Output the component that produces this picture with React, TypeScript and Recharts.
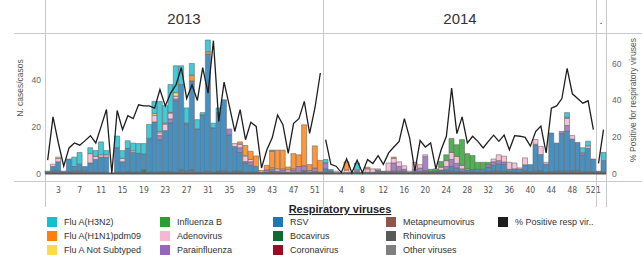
import React from 'react';
import { ComposedChart, Bar, Line, XAxis, YAxis, ReferenceLine } from 'recharts';

// ---------- categories ----------
const weeks2013 = Array.from({ length: 52 }, (_, i) => i + 1);
const weeks2014 = Array.from({ length: 52 }, (_, i) => i + 1);
const weeks2015 = [1, 2];
const ticks2013 = [3, 7, 11, 15, 19, 23, 27, 31, 35, 39, 43, 47, 51];
const ticks2014 = [4, 8, 12, 16, 20, 24, 28, 32, 36, 40, 44, 48, 52];
const ticks2015 = [1];
const yearLabels = ['2013', '2014', '.'];

// ---------- 2013 (cases per week) ----------
const rsv2013 = [0.5,2,4,0.5,5.5,2,3,2,4,5.5, 6.5,6.5,0,10.5,4.5,10,8.5,8,6.7,14.5, 21.5,13.8,17.5,21,30.5,36.5,20,38,18.5,24.5, 50,19,25,30.5,16,10.5,8,4,3,2.5, 0.3,0,0.5,0.5,0.5,0.3,0.5,0.5,0.5,0.3,0.3,0.3];
const para2013 = [0,0,0,0,0,0,0,0,0,0, 0,0,0,0,0,0,0,0,0,0, 0,1.8,0,1.7,0.8,0,0.5,0,0,0, 0,0,0,0,2.5,0,2,0.6,1.5,0, 0,1,1,0.5,1,0,1,2.5,2,1,1.5,0];
const adeno2013 = [0,1,1.5,0,0,0,0,0,4,1.3, 1,1,0,0,1.5,0,0.7,0,0,0, 2.8,1.2,2.8,2.5,1.2,0,0,0,0,0, 0,0,0,0,0,1.3,1.5,2.4,1,0, 0,0,0,1,0.5,1,0.5,0,0,0,0,0];
const notSub2013 = [0,0,0.5,0,0,0,0,0,0,0, 0,0,0,0,0,0,0,0,0,0, 0.8,0.6,0.4,0.3,1.5,0,0,0,0,0, 0,0,0,0,0,0,0,0,0,0, 0,0,0.5,0,0,0,0,0,0,0,0,0];
const h1n12013 = [0,0,0,0,0,0,0,0,0,0, 0,0,0,0,0,0,0,0,0,0, 0,0,0,0,0,0,0,2.5,0,0, 1,0,0,0,0,0,1,4.5,3.5,4.5, 1,2,7,8,8,1.2,6.5,5,17.5,2.5,9.5,5];
const h3n22013 = [0,0,0,0,0,4,5,0,2.5,2.5, 5.5,1.8,0,5,3.3,3.3,3.3,4.2,4.5,6, 5.2,12.8,7.5,11.9,11.5,8,6.5,5,4,1, 5,2,2,0,0,0,0,0,0,0, 0,0,0.5,0,0,0,0,0,0,0,0,0];
const boca2013 = [0,0,0,0,0,0,0,0,0,0, 0,0,0,0,0,0,0,0,1.2,0, 0,0,0,0,0,0,0,0,0,0, 0,0,0.5,0,0,0,0,0,0,0, 0,0,0.5,0,0,0,0,0,0,0,0,0];
const metap2013 = [0,0,0,0,0,0,0,0,0,0, 0,0,0,0,0,0,0,0,0,0, 0,0,0,0,0,0,0,0,0,0, 0,0,0,0,0,0,0.5,0,0,0, 0,0,0,0,0,0,0,0,0,0,0,0];
const rhino2013 = [0.5,1,1,0.5,0.7,1,1,1,0.5,0.5, 0.5,0.5,0,0.5,0.5,0.7,0.5,0.6,0.4,0.5, 0.5,0.6,0.8,0.6,0.5,1.5,1,1.5,0.5,0.5, 1,0.5,0.5,1,0.5,1,0.5,0.5,0.5,0.5, 0,0.5,0,0,0,0.3,0,0,0.8,0,0.5,0.3];
const pct2013 = [7.3,31,16.7,4,14,16.7,15.5,18,20.7,16.7, 25.8,35,0,34.5,24,31.6,30,37.6,37,37, 35.8,46,37,44,48.5,58,41,48.5,40,58, 44,72.7,28.5,50,36.7,23,35,18.5,28,25.8, 3,13,19.5,32,26.7,11,27.5,30,39.5,22,36,55];

// ---------- 2014 ----------
const rsv2014 = [1.5,1,0,0,0,0,0.7,0,0,0, 0,0.3,0,0,0,0,0,0,0,0, 0.3,0.5,0.5,0.8,2,1.5,0.5,1,1,1.3, 1.3,2,2.5,3,3,1,1.5,1.5,2.5,3, 11,7,3.5,16.5,12,16,17,13.5,12,7,10,5.5];
const para2014 = [2.5,0,0,0,0,0,0,0,0,0, 0.5,0,0.5,3.5,2,0.8,0,1,1.5,6, 0,0,0,1.5,3,2,1,0,0,0, 0,1,1.5,1.5,1,0,0,0,0,0, 0.5,0,0,0,0,1,2.5,0,0,1,0,0];
const adeno2014 = [0,0,0.7,0,1.2,0,0.5,0,1.5,1.5, 0.5,0,3.5,2,2,1.5,0.5,3,1.5,0.8, 0,0,1.2,2.5,3,3,1.5,0.5,0,0, 0,0,1.2,2.5,2.5,3,2.5,0.5,3,0, 2,3.5,0.8,0,0,0,3,1.5,0,0,1,0];
const infB2014 = [0,0,0,0,0,0,0,0,0,0, 0,0,0,0,0,0,0,0,0,0, 1,1,2.5,2.5,6,5,11,6.5,6,3, 3,1,0,0,0,0,0,0,0,0, 0,0,0,0,0,0,0,0,0,0,0,0];
const notSub2014 = [0,0,0,0,0,0,0,0,0,0, 0,0,0,0,0,0,0,0,0,0, 0,0,0,0,0,0,0,0,0,0, 0,0,0,0,0,0,0,0,0,0, 0,0,0,0,0,0,0.5,0,0,0,0,0];
const h1n12014 = [0,0,0,0,3.5,0,0,0,0.7,0, 0,0,0,0.5,0,0,0,0,0,0, 0,0,0,0,0,0,0,0,0,0, 0,0,0,0,0,0,0,0,0,0, 0,0,0,0,0,0,0,0,0,0,0,0];
const h3n22014 = [1.5,0,0,0,0,0,3,0,0,0, 0,0,0,0,0,0,0,0,0,0, 0,0,0,0,0,0,0,0,0,0, 0,0,0,0,0,0,0,0,0,0, 0,0,0,0,0,0,2,0,0,2.2,2,0];
const metap2014 = [0,0,0,0,0,0,0,0,0,0, 0,0,0,0.5,0,0,0,0,0,0, 0,0,0,0,0,0,0,0,0,0, 0,0,0,0,0,0,0,0,0,0, 0,0,0,0,0,0,0,0,0,0,0,0];
const rhino2014 = [0.5,0.7,0.3,0.3,0.3,0.5,0.3,0.5,0.5,0.5, 1,0.7,0.5,0.5,1,1,0.5,0.8,0.8,1.2, 0.5,0.5,1,0.7,1,0.8,0.5,0.5,0.7,0.5, 0.5,0.8,1,1,0.9,0.8,0.5,0.4,1.2,0.8, 1,1.1,0.5,0.8,1,1,1,1.2,1.3,0.8,0.8,0.7];
const pct2014 = [18.5,5,4,0.5,8,0.4,7.3,0.4,7.6,5.5, 9.8,5,11.3,14.5,17.6,30,19.5,1.3,18,14.5, 16.7,2.5,13,20.4,46.7,21.8,31,16.7,20.4,17.6, 14,17.6,21,17.6,21,13,20.7,20.4,19.8,15, 23,26,11.3,35.8,37,41,57.6,43.6,41,38.5,39.8,24];

// ---------- 2015 ----------
const rsv2015 = [0, 5];
const h3n22015 = [0, 3.5];
const rhino2015 = [0.5, 0.5];
const other2015 = [0.5, 0];
const pct2015 = [5.5, 24];

// ---------- series (stack order bottom -> top) ----------
const SERIES = [
  { key: 'other', name: 'Other viruses', color: '#7f7f7f' },
  { key: 'rhino', name: 'Rhinovirus', color: '#595959' },
  { key: 'metap', name: 'Metapneumovirus', color: '#8c564b' },
  { key: 'corona', name: 'Coronavirus', color: '#9c0a24' },
  { key: 'boca', name: 'Bocavirus', color: '#0e6b30' },
  { key: 'rsv', name: 'RSV', color: '#1f77b4' },
  { key: 'para', name: 'Parainfluenza', color: '#9467bd' },
  { key: 'adeno', name: 'Adenovirus', color: '#f7b6d2' },
  { key: 'infB', name: 'Influenza B', color: '#2ca02c' },
  { key: 'notSub', name: 'Flu A Not Subtyped', color: '#ffd94a' },
  { key: 'h1n1', name: 'Flu A(H1N1)pdm09', color: '#ff7f0e' },
  { key: 'h3n2', name: 'Flu A(H3N2)', color: '#17becf' },
];
const LINE_COLOR = '#1e1e1e';

const legendColumns = [
  ['h3n2', 'h1n1', 'notSub'],
  ['infB', 'adeno', 'para'],
  ['rsv', 'boca', 'corona'],
  ['metap', 'rhino', 'other'],
];

type Arrs = Record<string, number[]>;
function build(weeks: number[], arrs: Arrs, pct: number[]) {
  return weeks.map((w, i) => {
    const row: Record<string, number> = { week: w, pct: pct[i] };
    SERIES.forEach((s) => {
      row[s.key] = arrs[s.key] ? arrs[s.key][i] : 0;
    });
    return row;
  });
}

const data2013 = build(weeks2013, {
  rsv: rsv2013, para: para2013, adeno: adeno2013, notSub: notSub2013, h1n1: h1n12013,
  h3n2: h3n22013, boca: boca2013, metap: metap2013, rhino: rhino2013,
}, pct2013);
const data2014 = build(weeks2014, {
  rsv: rsv2014, para: para2014, adeno: adeno2014, infB: infB2014, notSub: notSub2014,
  h1n1: h1n12014, h3n2: h3n22014, metap: metap2014, rhino: rhino2014,
}, pct2014);
const data2015 = build(weeks2015, {
  rsv: rsv2015, h3n2: h3n22015, rhino: rhino2015, other: other2015,
}, pct2015);

const FONT = "'Liberation Sans', Arial, sans-serif";
const NARROW = "'Liberation Sans Narrow', 'DejaVu Sans Condensed', 'Liberation Sans', sans-serif";
const GRID = '#c9c9c9';
const TOP = 33;
const CH = 174;

const makeTick = (list: number[], edgeRight: number) => (props: any) => {
  const { x, y, payload } = props;
  if (!list.includes(payload.value)) return <g />;
  const nearEdge = x > edgeRight;
  return (
    <text
      x={nearEdge ? x + 2.2 : x}
      y={y}
      dy="0.71em"
      textAnchor={nearEdge ? 'end' : 'middle'}
      fontSize={8.5}
      fill="#555"
      fontFamily={NARROW}
    >
      {payload.value}
    </text>
  );
};

function Panel(props: {
  data: any[]; ticks: number[]; left: number; width: number; leftAxis?: boolean; rightAxis?: boolean;
}) {
  const { data, ticks, left, width, leftAxis, rightAxis } = props;
  const plotRight = rightAxis ? width - 36 : width;
  return (
    <div style={{ position: 'absolute', left, top: TOP, width, height: CH }}>
      <ComposedChart
        width={width}
        height={CH}
        data={data}
        margin={{ top: 0, right: 0, bottom: 0, left: 0 }}
        barCategoryGap={0}
        barGap={0}
      >
        <XAxis
          dataKey="week"
          interval={0}
          tickLine={false}
          axisLine={false}
          height={26}
          tickSize={4}
          tickMargin={2}
          tick={makeTick(ticks, plotRight - 6)}
        />
        <YAxis
          yAxisId="l"
          type="number"
          domain={[-3.19, 60]}
          allowDataOverflow
          ticks={[0, 20, 40]}
          hide={!leftAxis}
          width={45}
          tickLine={false}
          axisLine={false}
          tickSize={2}
          tickMargin={2}
          tick={{ fontSize: 8.5, fill: '#666', fontFamily: FONT }}
        />
        <YAxis
          yAxisId="r"
          orientation="right"
          type="number"
          domain={[-4.1, 76.9]}
          allowDataOverflow
          ticks={[0, 20, 40, 60]}
          hide={!rightAxis}
          width={36}
          tickLine={false}
          axisLine={false}
          tickSize={4}
          tickMargin={2}
          tick={{ fontSize: 8.5, fill: '#666', fontFamily: FONT }}
        />
        {SERIES.map((s) => (
          <Bar
            key={s.key}
            dataKey={s.key}
            stackId="v"
            yAxisId="l"
            fill={s.color}
            fillOpacity={0.82}
            stroke="#6a6a6a"
            strokeWidth={0.6}
            isAnimationActive={false}
          />
        ))}
        <ReferenceLine yAxisId="l" y={0} stroke="#5a5a5a" strokeWidth={2} />
        <Line
          yAxisId="r"
          dataKey="pct"
          type="linear"
          stroke={LINE_COLOR}
          strokeWidth={1.3}
          dot={false}
          activeDot={false}
          isAnimationActive={false}
        />
      </ComposedChart>
    </div>
  );
}

const colorOf = (k: string) => SERIES.find((s) => s.key === k)!.color;
const nameOf = (k: string) => SERIES.find((s) => s.key === k)!.name;

export default function App() {
  const colX = [47, 160, 273, 386, 498];
  const rowY = [222, 236, 250];
  return (
    <div style={{ position: 'absolute', left: 0, top: 0, width: 642, height: 255, background: '#fff', overflow: 'hidden' }}>
      <svg width={642} height={255} style={{ position: 'absolute', left: 0, top: 0 }} fontFamily={FONT}>
        <line x1={14} y1={33.5} x2={642} y2={33.5} stroke={GRID} />
        <line x1={14} y1={181.5} x2={642} y2={181.5} stroke={GRID} />
        {[45.5, 323.5, 596.5, 606.5].map((x) => (
          <line key={x} x1={x} y1={0} x2={x} y2={207} stroke={GRID} />
        ))}
        <text x={184} y={24} textAnchor="middle" fontSize={15} fill="#333">{yearLabels[0]}</text>
        <text x={460} y={24} textAnchor="middle" fontSize={15} fill="#333">{yearLabels[1]}</text>
        <text x={601} y={24} textAnchor="middle" fontSize={11} fill="#333">{yearLabels[2]}</text>
        <text transform="translate(20,88) rotate(-90)" textAnchor="middle" dominantBaseline="central" fontSize={8.5} fill="#555">N. cases/casos</text>
        <text transform="translate(633,100) rotate(-90)" textAnchor="middle" dominantBaseline="central" fontSize={8.5} fill="#555">% Positive for respiratory viruses</text>

        <text x={340} y={213} textAnchor="middle" fontSize={11} fontWeight="bold" fill="#222" style={{ textDecoration: 'underline' }}>Respiratory viruses</text>
        {legendColumns.map((col, ci) =>
          col.map((k, ri) => (
            <g key={k}>
              <rect x={colX[ci]} y={rowY[ri] - 5} width={10} height={10} fill={colorOf(k)} />
              <text x={colX[ci] + 17} y={rowY[ri]} dominantBaseline="central" fontSize={9} fill="#333">{nameOf(k)}</text>
            </g>
          ))
        )}
        <rect x={colX[4]} y={rowY[0] - 5} width={10} height={10} fill={LINE_COLOR} />
        <text x={colX[4] + 17} y={rowY[0]} dominantBaseline="central" fontSize={9} fill="#333">% Positive resp vir..</text>
      </svg>
      <Panel data={data2013} ticks={ticks2013} left={0} width={323} leftAxis />
      <Panel data={data2014} ticks={ticks2014} left={323} width={273} />
      <Panel data={data2015} ticks={ticks2015} left={596} width={46} rightAxis />
    </div>
  );
}
